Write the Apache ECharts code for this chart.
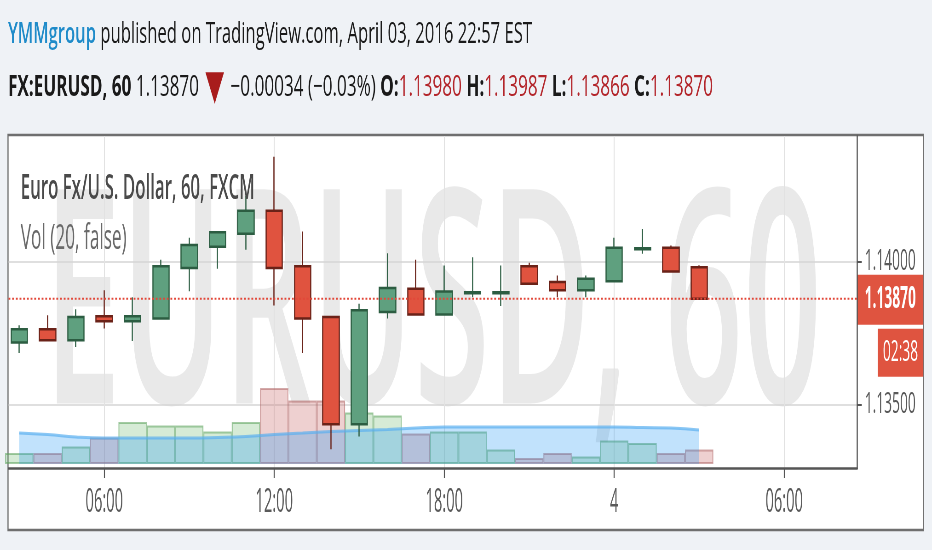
<!DOCTYPE html>
<html>
<head>
<meta charset="utf-8">
<script src="https://cdn.jsdelivr.net/npm/echarts@6/dist/echarts.min.js"></script>
<style>
  html, body { margin: 0; padding: 0; background: #eff2f6; overflow: hidden; }
  #main { height: 550px; transform-origin: 0 0; }
</style>
</head>
<body>
<div id="main"></div>
<script>
// the snapshot is squeezed sideways, so draw wide and squeeze it back
var S = 0.46;
var W = 932 / S;
function X(v) { return v / S; }

// hourly candles, 03:00 Apr 3 -> 03:00 Apr 4
var hours = ['03:00', '04:00', '05:00', '06:00', '07:00', '08:00', '09:00', '10:00', '11:00',
  '12:00', '13:00', '14:00', '15:00', '16:00', '17:00', '18:00', '19:00', '20:00', '21:00',
  '22:00', '23:00', '00:00', '01:00', '02:00', '03:00'];
var opens = [1.13716, 1.13763, 1.13724, 1.13808, 1.13791, 1.13800, 1.13977, 1.14052, 1.14097,
  1.14178, 1.13983, 1.13806, 1.13430, 1.13823, 1.13905, 1.13814, 1.13889, 1.13889, 1.13983,
  1.13928, 1.13899, 1.13931, 1.14043, 1.14048, 1.13980];
var closes = [1.13763, 1.13724, 1.13806, 1.13791, 1.13808, 1.13983, 1.14058, 1.14102, 1.14178,
  1.13977, 1.13800, 1.13430, 1.13829, 1.13907, 1.13814, 1.13895, 1.13892, 1.13892, 1.13922,
  1.13899, 1.13940, 1.14048, 1.14046, 1.13965, 1.13870];
var lows = [1.13680, 1.13722, 1.13701, 1.13765, 1.13722, 1.13798, 1.13896, 1.13975, 1.14041,
  1.13846, 1.13680, 1.13343, 1.13387, 1.13800, 1.13812, 1.13812, 1.13875, 1.13844, 1.13921,
  1.13875, 1.13875, 1.13929, 1.14027, 1.13964, 1.13866];
var highs = [1.13777, 1.13812, 1.13833, 1.13899, 1.13875, 1.14006, 1.14083, 1.14105, 1.14230,
  1.14367, 1.14105, 1.13808, 1.13852, 1.14029, 1.14006, 1.13986, 1.14015, 1.13986, 1.13996,
  1.13951, 1.13951, 1.14083, 1.14114, 1.14056, 1.13987];
var volumes = [1100, 1100, 1750, 2650, 4200, 3850, 3850, 3250, 4200, 7600, 6350, 6350, 5150,
  4850, 3050, 3250, 3250, 1450, 600, 1100, 750, 2350, 2100, 1100, 1450];
var volMA = [3100, 2950, 2700, 2600, 2600, 2600, 2600, 2650, 2750, 2950, 3100, 3250, 3350,
  3450, 3600, 3700, 3700, 3700, 3700, 3700, 3700, 3700, 3650, 3600, 3400];

var tickHours = [3, 9, 15, 21, 27];
var tickLabels = ['06:00', '12:00', '18:00', '4', '06:00'];
var priceTicks = [1.135, 1.14];
var lastPrice = 1.1387;
var countdown = '02:38';

var XMIN = -0.38, XMAX = 29.58;
var YMIN = 1.13277, YMAX = 1.144394;

var FONT = 'Open Sans';
var ctx = document.createElement('canvas').getContext('2d');
function textW(str, weight, size) {
  ctx.font = weight + ' ' + size + 'px "' + FONT + '"';
  return ctx.measureText(str).width;
}

// rich text line, squeezed to the width it has in the picture
function richLine(id, segs, size, left, cy, widthPx, z) {
  var rich = {}, text = '', w = 0;
  segs.forEach(function (s, i) {
    var key = 's' + i;
    var fs = s.size || size;
    rich[key] = { fontFamily: FONT, fontSize: fs, fontWeight: s.w || 'normal', fill: s.c || '#1a1a1a' };
    text += '{' + key + '|' + s.t + '}';
    w += textW(s.t, s.w || 'normal', fs);
  });
  return {
    type: 'text', id: id, x: X(left), y: cy, scaleX: X(widthPx) / w, z: z || 10, silent: true,
    style: { text: text, rich: rich, align: 'left', verticalAlign: 'middle' }
  };
}

var red = '#b3262b';
var graphics = [
  { type: 'rect', id: 'panel', z: -10, silent: true,
    shape: { x: X(8), y: 135, width: X(923.5 - 8), height: 530 - 135 },
    style: { fill: '#ffffff', stroke: '#6f6f6f', lineWidth: 2.5 } },
  richLine('wm', [{ t: 'EURUSD, 60', w: 600, c: 'rgba(0,0,0,0.085)' }], 300, 44, 318, 778, -5),
  richLine('h1', [{ t: 'YMMgroup', w: 600, c: '#1f8bc9' },
    { t: ' published on TradingView.com, April 03, 2016 22:57 EST' }], 29, 8, 35, 524),
  richLine('h2', [{ t: 'FX:EURUSD, 60', w: 'bold' }, { t: ' 1.13870' }, { t: '▼', c: '#a81c1c', size: 54 },
    { t: '−0.00034 (−0.03%) ' }, { t: 'O:', w: 'bold' }, { t: '1.13980', c: red },
    { t: ' H:', w: 'bold' }, { t: '1.13987', c: red }, { t: ' L:', w: 'bold' }, { t: '1.13866', c: red },
    { t: ' C:', w: 'bold' }, { t: '1.13870', c: red }], 29, 8, 88, 705),
  richLine('l1', [{ t: 'Euro Fx/U.S. Dollar, 60, FXCM', w: 600, c: '#4a4a4a' }], 34, 20.7, 189, 234),
  richLine('l2', [{ t: 'Vol (20, false)', c: '#6a6a6a' }], 34, 20.7, 239, 106)
];

var upBar = { color: 'rgba(120,190,120,0.3)', borderColor: 'rgba(90,160,90,0.55)', borderWidth: 2 };
var downBar = { color: 'rgba(205,120,120,0.35)', borderColor: 'rgba(175,100,100,0.55)', borderWidth: 2 };

var main = document.getElementById('main');
main.style.width = W + 'px';
main.style.transform = 'scaleX(' + S + ')';
var chart = echarts.init(main);

var option = {
  animation: false,
  backgroundColor: 'transparent',
  grid: [
    { left: X(8.5), right: W - X(857.3), top: 136, bottom: 550 - 468, outerBoundsMode: 'none' },
    { left: X(8.5), right: W - X(857.3), top: 364, bottom: 550 - 464, outerBoundsMode: 'none' }
  ],
  xAxis: [
    { gridIndex: 0, type: 'value', min: XMIN, max: XMAX,
      axisLine: { show: true, onZero: false, lineStyle: { color: '#555', width: 2.5 } },
      axisTick: { show: true, customValues: tickHours, length: 10, lineStyle: { color: '#555', width: 2.2 } },
      axisLabel: { show: true, customValues: tickHours, color: '#5a5a5a', fontSize: 32, fontFamily: FONT,
        lineHeight: 32, margin: 19,
        formatter: function (v) { return tickLabels[tickHours.indexOf(v)]; } },
      splitLine: { show: true, lineStyle: { color: '#e2e2e2', width: 2 } } },
    { gridIndex: 1, type: 'value', min: XMIN, max: XMAX, show: false }
  ],
  yAxis: [
    { gridIndex: 0, type: 'value', position: 'right', min: YMIN, max: YMAX,
      axisLine: { show: true, onZero: false, lineStyle: { color: '#555', width: 2.5 } },
      axisTick: { show: true, customValues: priceTicks, length: X(4.5), lineStyle: { color: '#555', width: 2 } },
      axisLabel: { show: true, customValues: priceTicks, color: '#5a5a5a', fontSize: 30, fontFamily: FONT,
        margin: X(7.5), formatter: function (v) { return v.toFixed(5); } },
      splitLine: { show: true, lineStyle: { color: '#d4d4d4', width: 1.5 } } },
    { gridIndex: 1, type: 'value', min: 0, max: 10000, show: false }
  ],
  series: [
    { type: 'bar', name: 'Vol', xAxisIndex: 1, yAxisIndex: 1, z: 1, barWidth: X(28.33), silent: true,
      data: volumes.map(function (v, i) {
        return { value: [i, v], itemStyle: closes[i] >= opens[i] ? upBar : downBar };
      }) },
    { type: 'line', name: 'Vol MA', xAxisIndex: 1, yAxisIndex: 1, z: 1.5, smooth: true, symbol: 'none', silent: true,
      data: volMA.map(function (v, i) { return [i, v]; }),
      lineStyle: { color: 'rgba(90,175,240,0.7)', width: 3 },
      areaStyle: { color: 'rgba(33,150,243,0.4)' } },
    { type: 'candlestick', name: 'EURUSD', xAxisIndex: 0, yAxisIndex: 0, z: 3, barWidth: X(16.5), silent: true,
      encode: { x: 0, y: [1, 2, 3, 4] },
      data: opens.map(function (o, i) { return [i, o, closes[i], lows[i], highs[i]]; }),
      itemStyle: { color: '#5fa07f', color0: '#e0533f', borderColor: '#2c5d42', borderColor0: '#6a2218', borderWidth: 2.5 } },
    // last price level across the pane
    { type: 'line', name: 'Last', xAxisIndex: 0, yAxisIndex: 0, z: 4, symbol: 'none', silent: true,
      data: [[XMIN, lastPrice], [XMAX, lastPrice]],
      lineStyle: { color: '#e2483a', type: [4, 4], width: 2 } }
  ],
  graphic: graphics
};
chart.setOption(option);

// price tag and countdown sit on the right scale at the last price
var py = chart.convertToPixel({ yAxisIndex: 0 }, lastPrice);
graphics.push({
  type: 'group', id: 'tag', x: X(857.3), y: py - 24, z: 20, silent: true,
  children: [
    { type: 'rect', shape: { x: 0, y: 0, width: X(66), height: 50 }, style: { fill: '#df5440' } },
    { type: 'text', x: X(33), y: 25, style: { text: lastPrice.toFixed(5), fill: '#fff',
      font: 'bold 30px "' + FONT + '"', align: 'center', verticalAlign: 'middle' } }
  ]
});
graphics.push({
  type: 'group', id: 'timer', x: X(877.7), y: py + 30, z: 20, silent: true,
  children: [
    { type: 'rect', shape: { x: 0, y: 0, width: X(45.6), height: 48 }, style: { fill: '#df5440' } },
    { type: 'text', x: X(22.8), y: 24, style: { text: countdown, fill: '#fff',
      font: '30px "' + FONT + '"', align: 'center', verticalAlign: 'middle' } }
  ]
});
chart.setOption({ graphic: graphics });
</script>
</body>
</html>
